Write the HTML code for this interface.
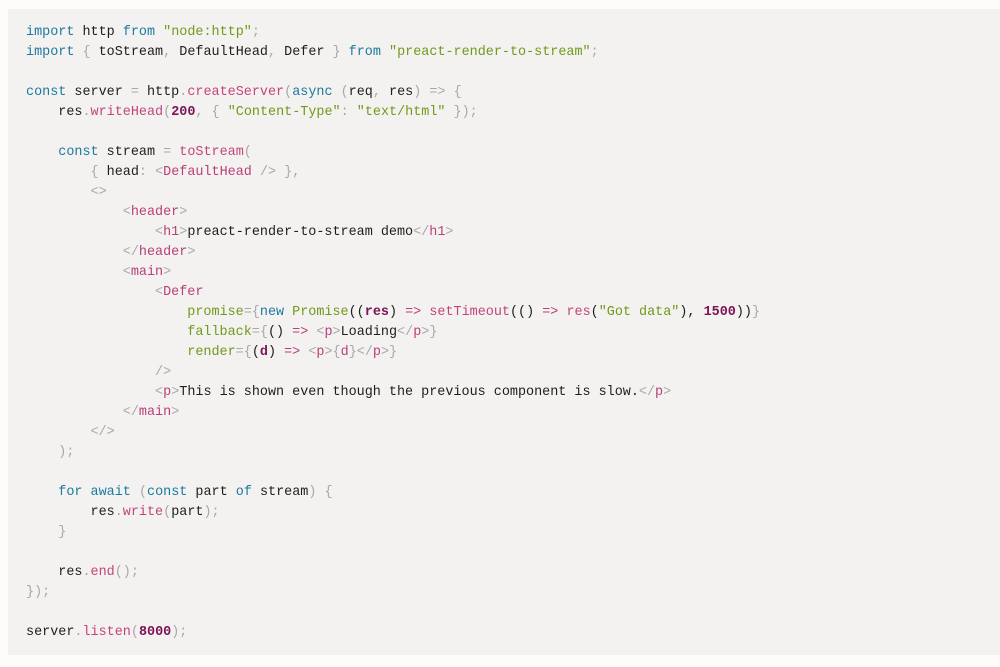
<!DOCTYPE html>
<html><head><meta charset="utf-8"><style>
body{margin:0;background:#fdfcfb;width:1000px;height:667px;overflow:hidden}
.box{position:absolute;left:8px;top:9px;width:992px;height:646px;background:#f4f2f0}
pre{position:absolute;left:26px;top:23px;margin:0;font-family:"Liberation Mono","DejaVu Sans Mono",monospace;font-size:13.45px;line-height:20px;color:#1e1e1e}
.k{color:#1b7aa0}.s{color:#6f9a1c}.f{color:#c2457a}.n{color:#7b1456;font-weight:bold}.p{color:#a8a8a8}.t{color:#b8407a}.a{color:#6f9a1c}
</style></head><body><div class="box"></div>
<pre><span class="k">import</span> http <span class="k">from</span> <span class="s">"node:http"</span><span class="p">;</span>
<span class="k">import</span> <span class="p">{</span> toStream<span class="p">,</span> DefaultHead<span class="p">,</span> Defer <span class="p">}</span> <span class="k">from</span> <span class="s">"preact-render-to-stream"</span><span class="p">;</span>

<span class="k">const</span> server <span class="p">=</span> http<span class="p">.</span><span class="f">createServer</span><span class="p">(</span><span class="k">async</span> <span class="p">(</span>req<span class="p">,</span> res<span class="p">)</span> <span class="p">=&gt;</span> <span class="p">{</span>
    res<span class="p">.</span><span class="f">writeHead</span><span class="p">(</span><span class="n">200</span><span class="p">,</span> <span class="p">{</span> <span class="s">"Content-Type"</span><span class="p">:</span> <span class="s">"text/html"</span> <span class="p">});</span>

    <span class="k">const</span> stream <span class="p">=</span> <span class="f">toStream</span><span class="p">(</span>
        <span class="p">{</span> head<span class="p">:</span> <span class="p">&lt;</span><span class="t">DefaultHead</span> <span class="p">/&gt;</span> <span class="p">},</span>
        <span class="p">&lt;&gt;</span>
            <span class="p">&lt;</span><span class="t">header</span><span class="p">&gt;</span>
                <span class="p">&lt;</span><span class="t">h1</span><span class="p">&gt;</span>preact-render-to-stream demo<span class="p">&lt;/</span><span class="t">h1</span><span class="p">&gt;</span>
            <span class="p">&lt;/</span><span class="t">header</span><span class="p">&gt;</span>
            <span class="p">&lt;</span><span class="t">main</span><span class="p">&gt;</span>
                <span class="p">&lt;</span><span class="t">Defer</span>
                    <span class="a">promise</span><span class="p">={</span><span class="k">new</span> <span class="s">Promise</span>((<span class="n">res</span>) <span class="t">=&gt;</span> <span class="f">setTimeout</span>(() <span class="t">=&gt;</span> <span class="f">res</span>(<span class="s">"Got data"</span>), <span class="n">1500</span>))<span class="p">}</span>
                    <span class="a">fallback</span><span class="p">={</span>() <span class="t">=&gt;</span> <span class="p">&lt;</span><span class="t">p</span><span class="p">&gt;</span>Loading<span class="p">&lt;/</span><span class="t">p</span><span class="p">&gt;}</span>
                    <span class="a">render</span><span class="p">={</span>(<span class="n">d</span>) <span class="t">=&gt;</span> <span class="p">&lt;</span><span class="t">p</span><span class="p">&gt;{</span><span class="t">d</span><span class="p">}&lt;/</span><span class="t">p</span><span class="p">&gt;}</span>
                <span class="p">/&gt;</span>
                <span class="p">&lt;</span><span class="t">p</span><span class="p">&gt;</span>This is shown even though the previous component is slow.<span class="p">&lt;/</span><span class="t">p</span><span class="p">&gt;</span>
            <span class="p">&lt;/</span><span class="t">main</span><span class="p">&gt;</span>
        <span class="p">&lt;/&gt;</span>
    <span class="p">);</span>

    <span class="k">for</span> <span class="k">await</span> <span class="p">(</span><span class="k">const</span> part <span class="k">of</span> stream<span class="p">)</span> <span class="p">{</span>
        res<span class="p">.</span><span class="f">write</span><span class="p">(</span>part<span class="p">);</span>
    <span class="p">}</span>

    res<span class="p">.</span><span class="f">end</span><span class="p">();</span>
<span class="p">});</span>

server<span class="p">.</span><span class="f">listen</span><span class="p">(</span><span class="n">8000</span><span class="p">);</span></pre>
</body></html>
